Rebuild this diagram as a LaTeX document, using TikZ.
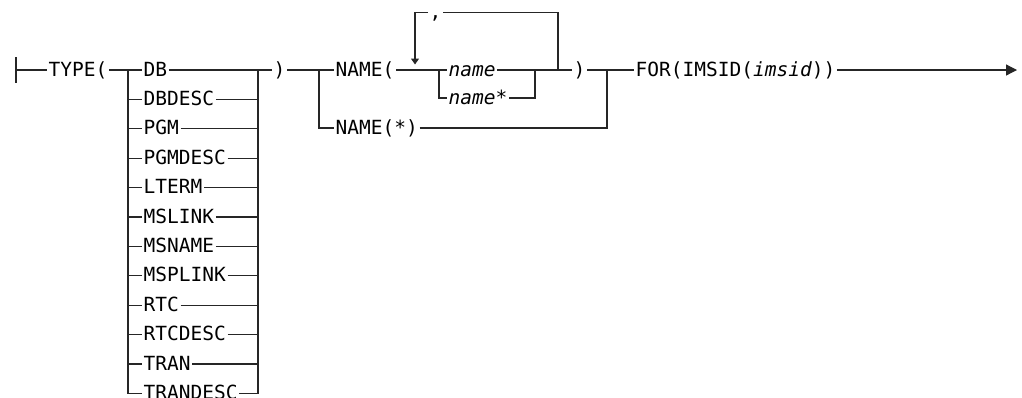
\documentclass[tikz,border=0pt]{standalone}
\usepackage{fontspec}
\usetikzlibrary{arrows.meta}
\newfontfamily\railfont{DejaVu Sans Mono}

\begin{document}
\begin{tikzpicture}[x=1pt, y=-1pt,
  track/.style={line width=1.2pt, black!85, line join=miter},
  kw/.style={font=\railfont\fontsize{19.5}{22}\selectfont, anchor=west, inner xsep=1.5pt, inner ysep=0pt, text height=15pt, text depth=3pt},
  var/.style={kw, font=\railfont\itshape\fontsize{19.5}{22}\selectfont},
  ends/.style={track, -{Triangle[length=11pt,width=11pt]}},
  back/.style={track, -{Triangle[length=6pt,width=8pt]}}]
\useasboundingbox (0,0) rectangle (1022,397);
% TYPE( ... ) choices
\coordinate (start) at (16,70);
\node[kw] (type) at (47,70) {TYPE(};
\coordinate (tl) at (128,70);
\coordinate (tr) at (258,70);
\foreach \kind [count=\i from 0] in {DB,DBDESC,PGM,PGMDESC,LTERM,MSLINK,MSNAME,MSPLINK,RTC,RTCDESC,TRAN,TRANDESC} {
  \node[kw] (t\i) at (142,{70+29.4*\i}) {\kind};
  \draw[track] (tl) |- (t\i.west);
  \draw[track] (t\i.east) -| (tr);
}
\node[kw] (close1) at (272,70) {)};
\draw[track] ([yshift=13pt]start) -- ([yshift=-13pt]start);
\draw[track] (start) -- (type.west);
\draw[track] (type.east) -- (tl);
\draw[track] (tr) -- (close1.west);
% NAME( name, ... ) or NAME(*)
\coordinate (nl) at (319,70);
\node[kw] (nm) at (334,70) {NAME(};
\node[kw] (nmall) at (334,128) {NAME(*)};
\coordinate (lb) at (415,70);
\coordinate (lbtip) at (415,64.5);
\coordinate (bl) at (439,70);
\node[var] (nv) at (447,70) {name};
\node[var] (nvs) at (447,98) {name*};
\coordinate (br) at (535,70);
\coordinate (rb) at (558,70);
\coordinate (rt) at (558,12.7);
\node[kw] (sep) at (428,12.7) {,};
\node[kw] (close2) at (572,70) {)};
\coordinate (nr) at (607,70);
\draw[track] (close1.east) -- (nl) -- (nm.west);
\draw[track] (nl) |- (nmall.west);
\draw[track] (nm.east) -- (bl) -- (nv.west);
\draw[track] (bl) |- (nvs.west);
\draw[track] (nv.east) -- (br) -- (rb) -- (close2.west);
\draw[track] (nvs.east) -| (br);
\draw[track] (rb) -- (rt) -- (sep.east);
\draw[back] (sep.west) -| (lbtip);
\draw[track] (close2.east) -- (nr);
\draw[track] (nmall.east) -| (nr);
% FOR(IMSID(imsid))
\node[kw] (for) at (634,70) {FOR(IMSID(\itshape imsid\upshape))};
\coordinate (stop) at (1017,70);
\draw[track] (nr) -- (for.west);
\draw[ends] (for.east) -- (stop);
\end{tikzpicture}
\end{document}
